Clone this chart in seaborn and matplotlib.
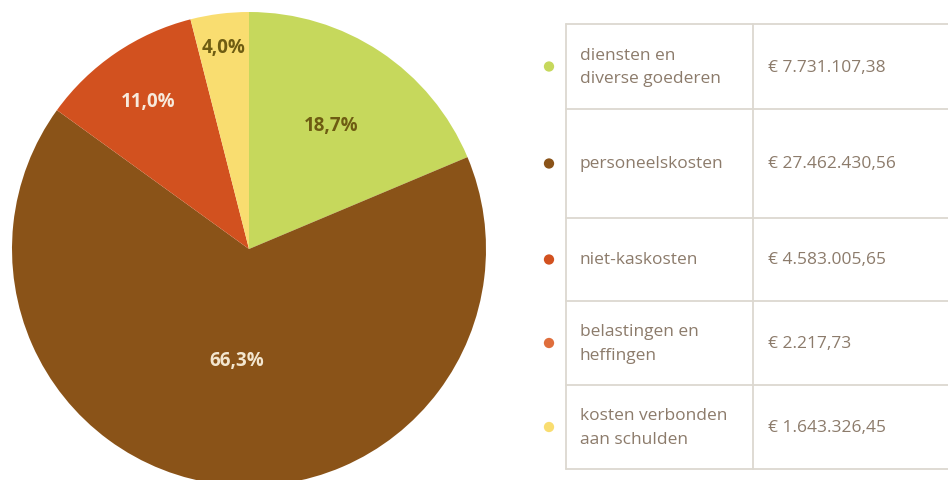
import numpy as np
import matplotlib.pyplot as plt
import seaborn as sns

# ========= 1) DATA =========
categories = [
    "diensten en\ndiverse goederen",
    "personeelskosten",
    "niet-kaskosten",
    "belastingen en\nheffingen",
    "kosten verbonden\naan schulden",
]
amounts = [7731107.38, 27462430.56, 4583005.65, 2217.73, 1643326.45]
amount_labels = [
    "€ 7.731.107,38",
    "€ 27.462.430,56",
    "€ 4.583.005,65",
    "€ 2.217,73",
    "€ 1.643.326,45",
]
pct_labels = ["18,7%", "66,3%", "11,0%", "", "4,0%"]

colors = ["#c6d85c", "#8a5318", "#d2511f", "#df6e3c", "#f9dd70"]
pct_colors = ["#6e5c12", "#f3e6cf", "#f7eadc", "#ffffff", "#6e5c12"]
pct_radius = [0.63, 0.47, 0.755, 0.8, 0.86]

# ========= 2) STYLE =========
sns.set_theme(style="white")
plt.rcParams["font.family"] = ["Open Sans", "DejaVu Sans"]

W, H = 948, 481
fig = plt.figure(figsize=(W / 100, H / 100), dpi=100)
fig.patch.set_facecolor("white")

# ========= 3) PIE =========
cx, cy, r = 249, 250, 237
ax = fig.add_axes([(cx - r) / W, (H - cy - r) / H, 2 * r / W, 2 * r / H])
wedges, _ = ax.pie(
    amounts,
    colors=colors,
    startangle=90,
    counterclock=False,
    radius=1,
    wedgeprops=dict(linewidth=0),
)
ax.set_xlim(-1, 1)
ax.set_ylim(-1, 1)
ax.set_aspect("equal")
ax.axis("off")

for w, lab, col, rr in zip(wedges, pct_labels, pct_colors, pct_radius):
    ang = np.deg2rad((w.theta1 + w.theta2) / 2)
    ax.text(rr * np.cos(ang), rr * np.sin(ang), lab, ha="center", va="center",
            fontsize=13.5, fontweight="bold", color=col)

# ========= 4) TABLE / LEGEND =========
tx = fig.add_axes([0, 0, 1, 1])
tx.set_xlim(0, W)
tx.set_ylim(H, 0)
tx.axis("off")

row_edges = [25, 110, 219, 302, 386, 470]
x_left, x_mid, x_right = 566, 753, 960
line_col = "#dcd8d0"

for y in row_edges:
    tx.plot([x_left, x_right], [y, y], color=line_col, lw=1.3)
for x in [x_left, x_mid]:
    tx.plot([x, x], [row_edges[0], row_edges[-1]], color=line_col, lw=1.3)

centers = [(a + b) / 2 for a, b in zip(row_edges[:-1], row_edges[1:])]
tx.scatter([549] * len(centers), centers, s=55, c=colors, linewidths=0, zorder=3)

text_col = "#8c7b6b"
for yc, cat, amt in zip(centers, categories, amount_labels):
    tx.text(580, yc, cat, ha="left", va="center", fontsize=12.5,
            color=text_col, linespacing=1.6)
    tx.text(768, yc, amt, ha="left", va="center", fontsize=12.5, color=text_col)

fig.savefig("out.png", dpi=100, facecolor="white")
